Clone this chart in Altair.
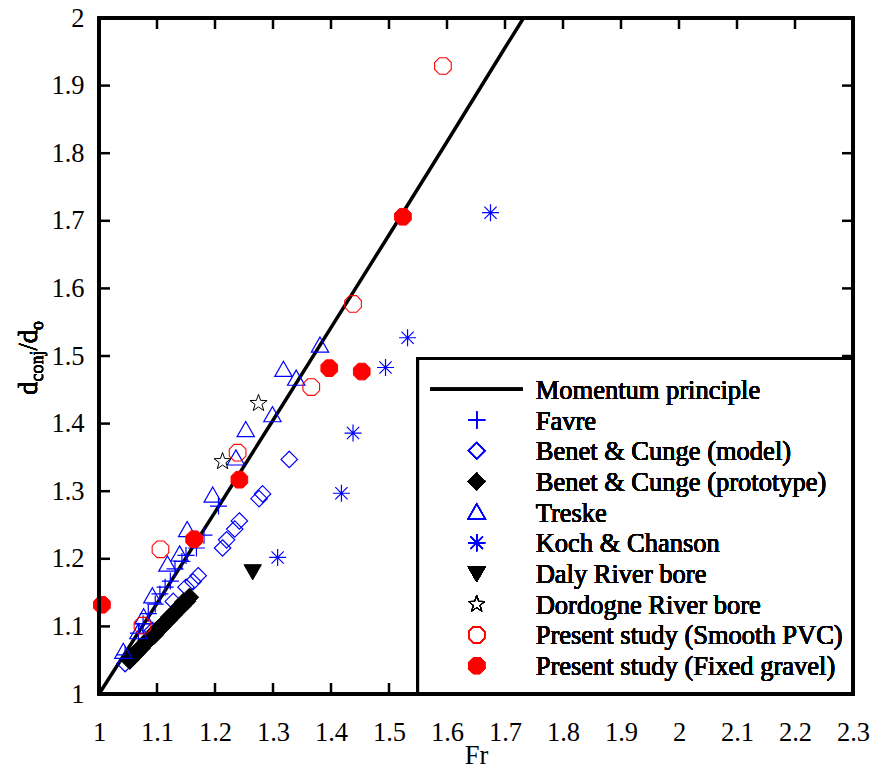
import altair as alt
import pandas as pd

# ---------------------------------------------------------------- data
# Momentum principle (Belanger equation) evaluated at a few Froude numbers
mom_fr = [1.0, 1.1, 1.2, 1.3, 1.4, 1.5, 1.6, 1.7, 1.732]
mom_y = [1.0, 1.134, 1.269, 1.405, 1.542, 1.679, 1.817, 1.956, 2.0]

favre_fr = [1.045, 1.068, 1.076, 1.085, 1.097, 1.105, 1.114, 1.123, 1.131, 1.143, 1.150, 1.168, 1.181, 1.206]
favre_y = [1.058, 1.090, 1.104, 1.119, 1.133, 1.148, 1.158, 1.167, 1.185, 1.196, 1.205, 1.216, 1.235, 1.278]

bcm_fr = [1.045, 1.092, 1.128, 1.150, 1.162, 1.171, 1.213, 1.220, 1.234, 1.242, 1.276, 1.282, 1.328]
bcm_y = [1.045, 1.094, 1.137, 1.158, 1.166, 1.175, 1.216, 1.228, 1.244, 1.256, 1.289, 1.296, 1.347]

bcp_fr = [1.053, 1.057, 1.061, 1.065, 1.069, 1.073, 1.078, 1.082, 1.086, 1.091, 1.095, 1.098,
          1.103, 1.107, 1.110, 1.115, 1.119, 1.122, 1.127, 1.131, 1.134, 1.139, 1.143, 1.146,
          1.151, 1.156]
bcp_y = [1.050, 1.054, 1.059, 1.061, 1.066, 1.068, 1.074, 1.078, 1.080, 1.085, 1.087, 1.093,
         1.095, 1.100, 1.101, 1.107, 1.109, 1.114, 1.116, 1.121, 1.123, 1.129, 1.130, 1.136,
         1.137, 1.143]

treske_fr = [1.042, 1.068, 1.077, 1.092, 1.118, 1.139, 1.152, 1.196, 1.236, 1.253, 1.299, 1.318, 1.340, 1.381]
treske_y = [1.063, 1.092, 1.114, 1.145, 1.192, 1.207, 1.243, 1.294, 1.349, 1.391, 1.413, 1.480, 1.467, 1.516]

koch_fr = [1.308, 1.418, 1.438, 1.494, 1.532, 1.675]
koch_y = [1.202, 1.297, 1.386, 1.483, 1.527, 1.712]

daly_fr = [1.265]
daly_y = [1.181]

dordogne_fr = [1.213, 1.275]
dordogne_y = [1.344, 1.430]

pvc_fr = [1.075, 1.106, 1.239, 1.366, 1.438, 1.593]
pvc_y = [1.101, 1.214, 1.357, 1.454, 1.577, 1.929]

gravel_fr = [1.005, 1.164, 1.242, 1.397, 1.453, 1.524]
gravel_y = [1.132, 1.229, 1.317, 1.482, 1.477, 1.706]

x_ticks = [1.0, 1.1, 1.2, 1.3, 1.4, 1.5, 1.6, 1.7, 1.8, 1.9, 2.0, 2.1, 2.2, 2.3]
y_ticks = [1.0, 1.1, 1.2, 1.3, 1.4, 1.5, 1.6, 1.7, 1.8, 1.9, 2.0]

# ---------------------------------------------------------------- styling
W, H = 754, 676
SERIF = "'Liberation Serif', 'Times New Roman', Times, serif"
FS = 26.5
BLUE, RED, BLACK = "#0000ff", "#ff0000", "#000000"

PLUS = "M-1,0L1,0M0,-1L0,1"
DIAMOND = "M0,-1L1,0L0,1L-1,0Z"
TRI_UP = "M0,-0.95L1,0.8L-1,0.8Z"
TRI_DOWN = "M0,0.95L1,-0.8L-1,-0.8Z"
ASTER = "M-1,0L1,0M0,-1L0,1M-0.72,-0.72L0.72,0.72M-0.72,0.72L0.72,-0.72"
STAR = ("M0,-1L0.235,-0.324L0.951,-0.309L0.38,0.124L0.588,0.809L0,0.4"
        "L-0.588,0.809L-0.38,0.124L-0.951,-0.309L-0.235,-0.324Z")
OCT = ("M0.383,-0.924L0.924,-0.383L0.924,0.383L0.383,0.924L-0.383,0.924"
       "L-0.924,0.383L-0.924,-0.383L-0.383,-0.924Z")

xs = alt.Scale(domain=[1.0, 2.3], nice=False, zero=False)
ys = alt.Scale(domain=[1.0, 2.0], nice=False, zero=False)

X = alt.X("Fr:Q", scale=xs, title="Fr",
          axis=alt.Axis(values=x_ticks, format="~g", ticks=False, tickSize=0, domain=False,
                        grid=False, labelFlush=False, labelOverlap=False, labelPadding=25,
                        titlePadding=-3))
Y = alt.Y("d:Q", scale=ys, title=None,
          axis=alt.Axis(values=y_ticks, format="~g", ticks=False, tickSize=0, domain=False,
                        grid=False, labelFlush=False, labelOverlap=False, labelPadding=15))

# series: (label, fr, y, shape, size, filled, colour, strokeWidth)
series = [
    ("Favre", favre_fr, favre_y, PLUS, 289, False, BLUE, 1.2),
    ("Benet & Cunge (model)", bcm_fr, bcm_y, DIAMOND, 270, False, BLUE, 1.2),
    ("Benet & Cunge (prototype)", bcp_fr, bcp_y, DIAMOND, 340, True, BLACK, 1.0),
    ("Treske", treske_fr, treske_y, TRI_UP, 300, False, BLUE, 1.2),
    ("Koch & Chanson", koch_fr, koch_y, ASTER, 289, False, BLUE, 1.2),
    ("Daly River bore", daly_fr, daly_y, TRI_DOWN, 300, True, BLACK, 1.0),
    ("Dordogne River bore", dordogne_fr, dordogne_y, STAR, 324, False, BLACK, 1.0),
    ("Present study (Smooth PVC)", pvc_fr, pvc_y, OCT, 324, False, RED, 1.1),
    ("Present study (Fixed gravel)", gravel_fr, gravel_y, OCT, 324, True, RED, 1.0),
]


def point_style(shape, size, filled, colour, sw):
    if filled:
        return dict(shape=shape, size=size, filled=True, fill=colour, stroke=colour,
                    strokeWidth=sw, opacity=1, fillOpacity=1)
    return dict(shape=shape, size=size, filled=False, stroke=colour, strokeWidth=sw,
                opacity=1, strokeOpacity=1)


layers = []

# momentum principle curve
mom_df = pd.DataFrame({"Fr": mom_fr, "d": mom_y})
layers.append(alt.Chart(mom_df).mark_line(color=BLACK, strokeWidth=3.5).encode(x=X, y=Y))

# data series
for label, fr, yv, shape, size, filled, colour, sw in series:
    df = pd.DataFrame({"Fr": fr, "d": yv})
    legend_size = 270 if label == "Benet & Cunge (prototype)" else size
    layers.append(alt.Chart(df).mark_point(**point_style(shape, size, filled, colour, sw))
                  .encode(x=X, y=Y))

# inward ticks on all four sides of the frame
TL = 11
xt = pd.DataFrame({"Fr": x_ticks[1:-1]})
yt = pd.DataFrame({"d": y_ticks[1:-1]})
layers.append(alt.Chart(xt).mark_rule(color=BLACK, strokeWidth=2.5)
              .encode(x=X, y=alt.value(H), y2=alt.value(H - TL)))
layers.append(alt.Chart(xt).mark_rule(color=BLACK, strokeWidth=2.5)
              .encode(x=X, y=alt.value(0), y2=alt.value(TL)))
layers.append(alt.Chart(yt).mark_rule(color=BLACK, strokeWidth=2.5)
              .encode(y=Y, x=alt.value(0), x2=alt.value(TL)))
layers.append(alt.Chart(yt).mark_rule(color=BLACK, strokeWidth=2.5)
              .encode(y=Y, x=alt.value(W), x2=alt.value(W - TL)))

# legend box
LX0, LY0 = 318.7, 340.5
layers.append(alt.Chart(mom_df).mark_rect(fill="white", stroke=BLACK, strokeWidth=3)
              .encode(x=alt.value(LX0), x2=alt.value(W), y=alt.value(LY0), y2=alt.value(H)))

ROW0, ROWSTEP = 371.3, 30.7
SYM_X, TXT_X = 377.7, 436.7

legend_rows = [("Momentum principle", None)] + [(s[0], s) for s in series]
for i, (label, s) in enumerate(legend_rows):
    yc = ROW0 + i * ROWSTEP
    if s is None:
        layers.append(alt.Chart(mom_df).mark_rule(color=BLACK, strokeWidth=3)
                      .encode(x=alt.value(331), x2=alt.value(423.7), y=alt.value(yc)))
    else:
        _, _, _, shape, size, filled, colour, sw = s
        size = min(size, 300)
        layers.append(alt.Chart(mom_df).mark_point(**point_style(shape, size, filled, colour, sw))
                      .encode(x=alt.value(SYM_X), y=alt.value(yc)))
    layers.append(alt.Chart(mom_df).mark_text(text=label, font=SERIF, fontSize=FS, align="left",
                                              baseline="alphabetic", color=BLACK)
                  .encode(x=alt.value(TXT_X), y=alt.value(yc + 9.5)))

# frame around the plot area
layers.append(alt.Chart(mom_df).mark_rect(fillOpacity=0, stroke=BLACK, strokeWidth=3)
              .encode(x=alt.value(0), x2=alt.value(W), y=alt.value(0), y2=alt.value(H)))

# y-axis title d_conj/d_o with subscripts, written bottom-to-top
title_parts = [("d", FS, 0.0, 0.0), ("conj", 18, 13.5, 5.5), ("/d", FS, 44.5, 0.0), ("o", 18, 65.0, 5.5)]
TY0, TX0 = 377.0, -62.0
for txt, size, offs, shift in title_parts:
    layers.append(alt.Chart(mom_df).mark_text(text=txt, font=SERIF, fontSize=size, angle=270,
                                              align="left", baseline="alphabetic", color=BLACK)
                  .encode(x=alt.value(TX0 + shift), y=alt.value(TY0 - offs)))

chart = (
    alt.layer(*layers)
    .properties(width=W, height=H,
                padding={"left": 99, "top": 18, "right": 21, "bottom": 77},
                autosize=alt.AutoSizeParams(type="none"))
    .configure_view(strokeWidth=0)
    .configure_axis(labelFont=SERIF, labelFontSize=FS, labelColor=BLACK,
                    titleFont=SERIF, titleFontSize=FS, titleColor=BLACK, titleFontWeight="normal")
)

chart.save("out.html", embed_options={"renderer": "svg", "actions": False})
